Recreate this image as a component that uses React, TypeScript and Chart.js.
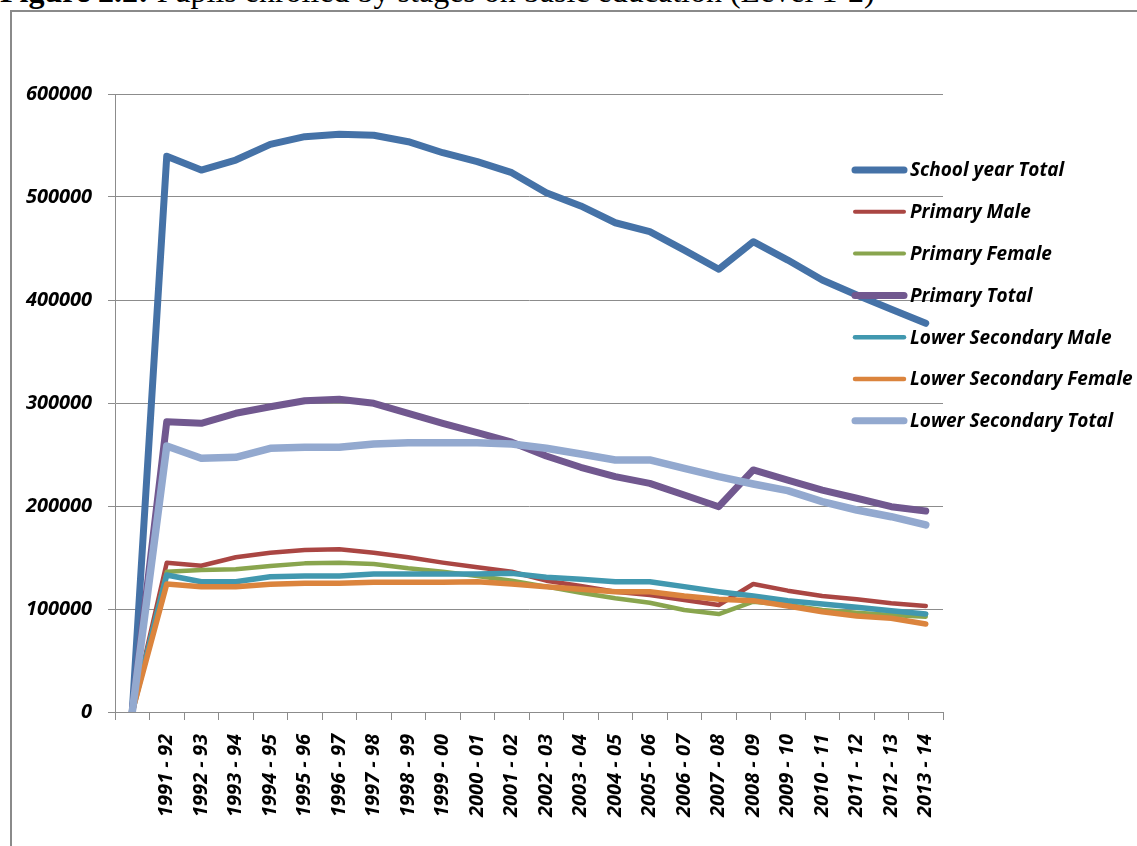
import React, { useEffect, useRef } from 'react';
import { Chart, registerables } from 'chart.js';

Chart.register(...registerables);

const categories = [
  '', '1991 - 92', '1992 - 93', '1993 - 94', '1994 - 95', '1995 - 96', '1996 - 97',
  '1997 - 98', '1998 - 99', '1999 - 00', '2000 - 01', '2001 - 02', '2002 - 03',
  '2003 - 04', '2004 - 05', '2005 - 06', '2006 - 07', '2007 - 08', '2008 - 09',
  '2009 - 10', '2010 - 11', '2011 - 12', '2012 - 13', '2013 - 14',
];

const schoolYearTotal = [
  0, 539500, 526200, 535900, 551100, 558600, 560900, 559900, 553700, 543000, 534300,
  523600, 504200, 491300, 475000, 466300, 448500, 429800, 456600, 438800, 419400,
  404900, 391000, 377400,
];
const primaryMale = [
  0, 145000, 142000, 150200, 154700, 157300, 158000, 154700, 150200, 145000, 140500,
  136200, 127500, 122300, 116800, 113600, 108700, 103900, 124300, 117800, 112600,
  109400, 105500, 102900,
];
const primaryFemale = [
  0, 136200, 137900, 138500, 141700, 144300, 145000, 143700, 139500, 136200, 132000,
  127500, 121700, 115800, 110400, 106100, 99000, 95100, 107100, 103900, 99000,
  96400, 94200, 92500,
];
const primaryTotal = [
  0, 281800, 280300, 290000, 296400, 302200, 303600, 299700, 290000, 280300, 271200,
  262000, 248500, 237600, 228500, 222000, 210700, 199300, 235000, 225200, 215500,
  207500, 199300, 195100,
];
const lowerSecondaryMale = [
  0, 133000, 126500, 126500, 131400, 132000, 132000, 134000, 134000, 134000, 134000,
  134600, 130800, 128800, 126500, 126500, 121700, 116800, 112600, 108100, 104900,
  101600, 98400, 95100,
];
const lowerSecondaryFemale = [
  0, 124300, 121700, 121700, 124000, 125000, 125000, 125900, 125900, 125900, 126500,
  124300, 121700, 119100, 116800, 116800, 112600, 109400, 108100, 102900, 97400,
  93200, 91000, 85400,
];
const lowerSecondaryTotal = [
  0, 258300, 246300, 247300, 256000, 257000, 257000, 260200, 261500, 261500, 261500,
  260200, 256000, 250500, 244700, 244700, 236600, 228500, 221400, 214900, 204200,
  196100, 189600, 181600,
];

const seriesNames = [
  'School year Total', 'Primary Male', 'Primary Female', 'Primary Total',
  'Lower Secondary Male', 'Lower Secondary Female', 'Lower Secondary Total',
];
const seriesData = [
  schoolYearTotal, primaryMale, primaryFemale, primaryTotal,
  lowerSecondaryMale, lowerSecondaryFemale, lowerSecondaryTotal,
];
const seriesColors = ['#4572A7', '#AA4643', '#89A54E', '#71588F', '#4198AF', '#DB843D', '#93A9CF'];
const seriesWidths = [7, 4.5, 4.5, 7, 5.5, 5.5, 7.5];
const legendWidths = [7, 4, 4, 7, 4.5, 4.5, 7];

const yTicks = [0, 100000, 200000, 300000, 400000, 500000, 600000];

const AXIS_FONT = { family: '"Open Sans", sans-serif', size: 20, weight: 'bold' as const, style: 'italic' as const };
const GRID = '#8c8c8c';

const sideLegend = {
  id: 'sideLegend',
  afterDraw(chart: any) {
    const { ctx, chartArea } = chart;
    ctx.save();
    chart.data.datasets.forEach((ds: any, i: number) => {
      const y = chartArea.top + 76 + i * 41.8;
      const x0 = chartArea.right - 91;
      ctx.strokeStyle = ds.borderColor;
      ctx.lineWidth = legendWidths[i];
      ctx.lineCap = 'round';
      ctx.beginPath();
      ctx.moveTo(x0 + 3, y);
      ctx.lineTo(x0 + 52, y);
      ctx.stroke();
      ctx.fillStyle = '#000';
      ctx.font = 'italic bold 19px "Open Sans", sans-serif';
      ctx.textBaseline = 'middle';
      ctx.textAlign = 'left';
      ctx.fillText(ds.label, x0 + 58, y + 1);
    });
    ctx.restore();
  },
};

export default function App() {
  const canvasRef = useRef<HTMLCanvasElement | null>(null);

  useEffect(() => {
    const canvas = canvasRef.current;
    if (!canvas) return;
    const chart = new Chart(canvas, {
      type: 'line',
      data: {
        labels: categories,
        datasets: seriesNames.map((name, i) => ({
          label: name,
          data: seriesData[i],
          borderColor: seriesColors[i],
          backgroundColor: seriesColors[i],
          borderWidth: seriesWidths[i],
          pointRadius: 0,
          pointHoverRadius: 0,
          tension: 0,
          fill: false,
          borderJoinStyle: 'round' as const,
          borderCapStyle: 'round' as const,
          order: seriesNames.length - i,
        })),
      },
      options: {
        animation: false,
        responsive: false,
        maintainAspectRatio: false,
        devicePixelRatio: 1,
        layout: { padding: { top: 82, left: 0, right: 194, bottom: 0 } },
        plugins: {
          legend: { display: false },
          tooltip: { enabled: false },
          title: { display: false },
        },
        scales: {
          x: {
            type: 'category',
            offset: true,
            grid: {
              offset: true,
              drawOnChartArea: false,
              drawTicks: true,
              tickLength: 8,
              color: GRID,
              lineWidth: 1,
            },
            border: { display: true, color: GRID, width: 1 },
            ticks: {
              autoSkip: false,
              minRotation: 90,
              maxRotation: 90,
              padding: 14,
              color: '#000',
              font: AXIS_FONT,
            },
            afterFit(scale: any) {
              scale.height = 134;
            },
          },
          y: {
            min: 0,
            max: 600000,
            afterBuildTicks(scale: any) {
              scale.ticks = yTicks.map((v) => ({ value: v }));
            },
            grid: {
              drawTicks: true,
              tickLength: 7,
              color: GRID,
              lineWidth: 1,
            },
            border: { display: true, color: GRID, width: 1 },
            ticks: {
              padding: 16,
              color: '#000',
              font: AXIS_FONT,
              callback: (v: any) => String(v),
            },
            afterFit(scale: any) {
              scale.width = 103;
            },
          },
        },
      },
      plugins: [sideLegend],
    });
    return () => chart.destroy();
  }, []);

  return (
    <div style={{ position: 'fixed', left: 0, top: 0, width: 1137, height: 846, overflow: 'hidden', background: '#fff' }}>
      <div
        style={{
          position: 'absolute',
          left: 0,
          top: -25,
          whiteSpace: 'nowrap',
          fontFamily: '"Liberation Serif", "Times New Roman", serif',
          fontSize: 32,
          lineHeight: '32px',
          color: '#000',
        }}
      >
        <b>Figure 2.2:</b> Pupils enrolled by stages on basic education (Level 1-2)
      </div>
      <div
        style={{
          position: 'absolute',
          left: 10,
          top: 10,
          width: 1200,
          height: 900,
          border: '2px solid #8a8a8a',
          boxSizing: 'border-box',
        }}
      />
      <div style={{ position: 'absolute', left: 12, top: 12, width: 1125, height: 834 }}>
        <canvas ref={canvasRef} width={1125} height={834} style={{ display: 'block' }} />
      </div>
    </div>
  );
}
